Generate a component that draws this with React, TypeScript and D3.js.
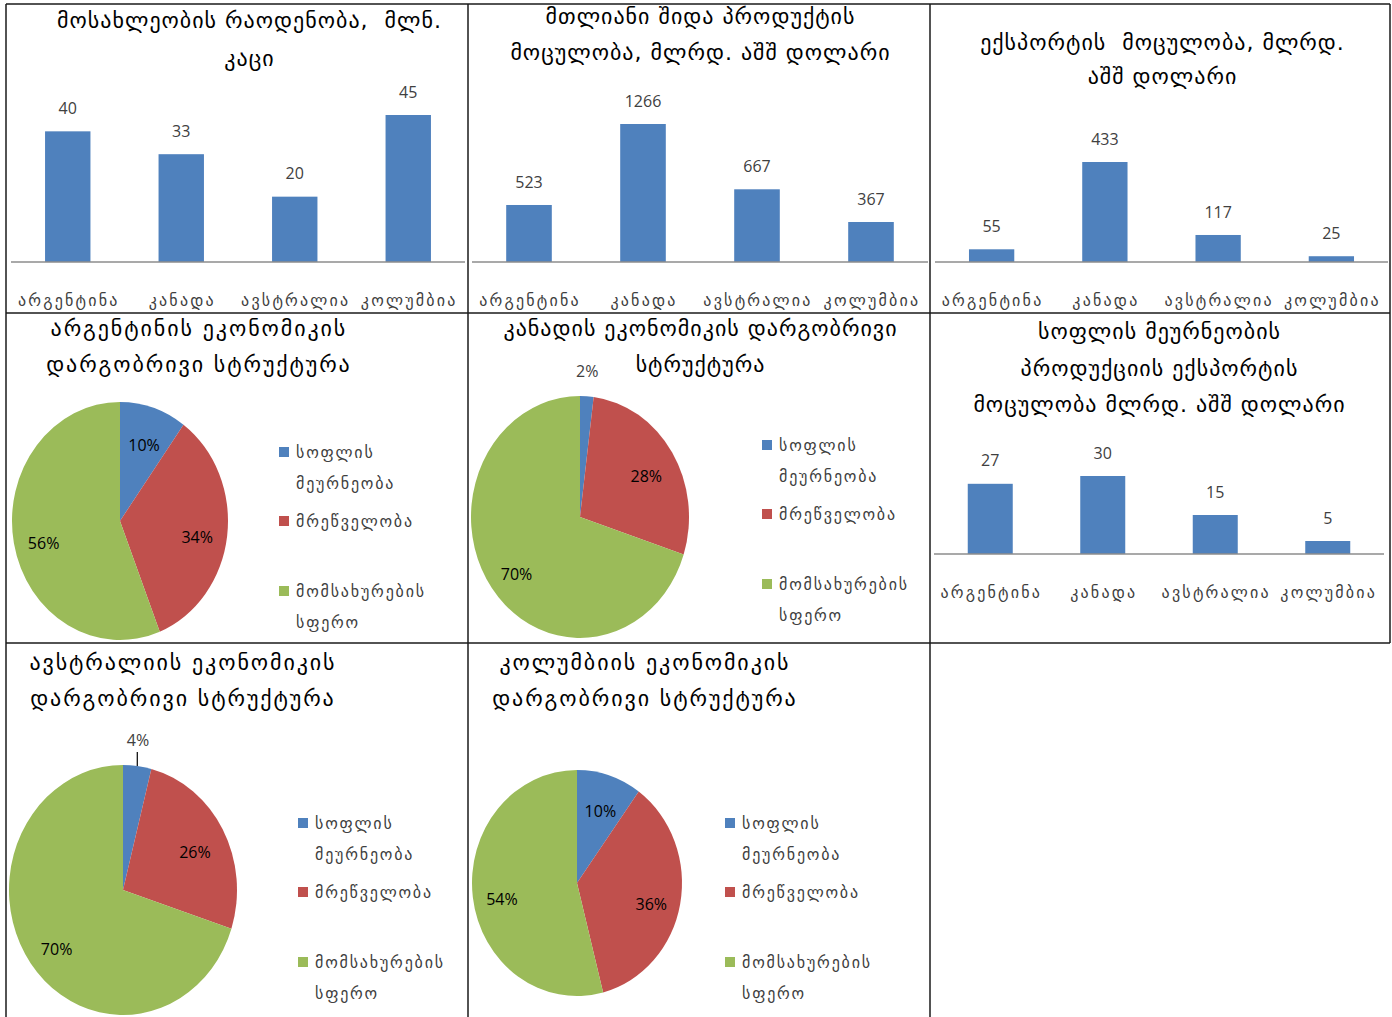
import * as d3 from 'd3'

const countries = ['არგენტინა', 'კანადა', 'ავსტრალია', 'კოლუმბია']
const population = [40, 33, 20, 45]
const gdp = [523, 1266, 667, 367]
const exportVolume = [55, 433, 117, 25]
const agriExport = [27, 30, 15, 5]

const sectorLines = [['სოფლის', 'მეურნეობა'], ['მრეწველობა'], ['მომსახურების', 'სფერო']]
const argentinaShares = [10, 34, 56]
const canadaShares = [2, 28, 70]
const australiaShares = [4, 26, 70]
const colombiaShares = [10, 36, 54]

const COLORS = ['#4f81bd', '#c0504d', '#9bbb59']
const GEO = '"DejaVu Sans", sans-serif'
const NUM = '"Open Sans", "Liberation Sans", sans-serif'
const TXT = '#404040'

type BarCfg = {
  title: string[]
  titleX: number
  titleY: number[]
  values: number[]
  x0: number
  x1: number
  base: number
  maxTop: number
}

const bars: BarCfg[] = [
  { title: ['მოსახლეობის რაოდენობა,  მლნ.', 'კაცი'], titleX: 249, titleY: [20, 58], values: population, x0: 11, x1: 465, base: 262, maxTop: 115 },
  { title: ['მთლიანი შიდა პროდუქტის', 'მოცულობა, მლრდ. აშშ დოლარი'], titleX: 700, titleY: [16, 52], values: gdp, x0: 472, x1: 928, base: 262, maxTop: 124 },
  { title: ['ექსპორტის  მოცულობა, მლრდ.', 'აშშ დოლარი'], titleX: 1162, titleY: [42, 76], values: exportVolume, x0: 935, x1: 1388, base: 262, maxTop: 162 },
  { title: ['სოფლის მეურნეობის', 'პროდუქციის ექსპორტის', 'მოცულობა მლრდ. აშშ დოლარი'], titleX: 1159, titleY: [331, 368, 404], values: agriExport, x0: 934, x1: 1384, base: 554, maxTop: 476 },
]

type PieCfg = {
  title: string[]
  titleX: number
  titleY: number[]
  spacing: number
  shares: number[]
  cx: number
  cy: number
  rx: number
  ry: number
  legendX: number
  legendY: number
  leader: boolean
}

const pies: PieCfg[] = [
  { title: ['არგენტინის ეკონომიკის', 'დარგობრივი სტრუქტურა'], titleX: 198, titleY: [328, 364], spacing: 1.9, shares: argentinaShares, cx: 120, cy: 521, rx: 108, ry: 119, legendX: 279, legendY: 452, leader: false },
  { title: ['კანადის ეკონომიკის დარგობრივი', 'სტრუქტურა'], titleX: 700, titleY: [328, 364], spacing: 1, shares: canadaShares, cx: 580, cy: 517, rx: 109, ry: 121, legendX: 762, legendY: 445, leader: false },
  { title: ['ავსტრალიის ეკონომიკის', 'დარგობრივი სტრუქტურა'], titleX: 182, titleY: [662, 698], spacing: 1.9, shares: australiaShares, cx: 123, cy: 890, rx: 114, ry: 125, legendX: 298, legendY: 823, leader: true },
  { title: ['კოლუმბიის ეკონომიკის', 'დარგობრივი სტრუქტურა'], titleX: 644, titleY: [662, 698], spacing: 1.9, shares: colombiaShares, cx: 577, cy: 883, rx: 105, ry: 113, legendX: 725, legendY: 823, leader: false },
]

const legendOffsets = [[0, 31], [69], [139, 170]]

const Title = ({ lines, x, ys, spacing = 1 }: { lines: string[]; x: number; ys: number[]; spacing?: number }) => (
  <g fontFamily={GEO} fontSize={22} fill="#000" textAnchor="middle" letterSpacing={spacing}>
    {lines.map((l, i) => (
      <text key={i} x={x + spacing / 2} y={ys[i]} dy="0.35em" style={{ whiteSpace: 'pre' }}>
        {l}
      </text>
    ))}
  </g>
)

const BarPanel = ({ c }: { c: BarCfg }) => {
  const x = d3.scaleBand<string>().domain(countries).range([c.x0, c.x1]).paddingInner(0.6).paddingOuter(0.3)
  const max = d3.max(c.values) as number
  const y = d3.scaleLinear().domain([0, max]).range([c.base, c.maxTop])
  return (
    <g>
      <Title lines={c.title} x={c.titleX} ys={c.titleY} />
      {c.values.map((v, i) => {
        const cx = (x(countries[i]) as number) + x.bandwidth() / 2
        return (
          <g key={i}>
            <rect x={x(countries[i])} y={y(v)} width={x.bandwidth()} height={c.base - y(v)} fill={COLORS[0]} />
            <text x={cx} y={y(v) - 23} dy="0.35em" textAnchor="middle" fontFamily={NUM} fontSize={16} fill={TXT}>
              {v}
            </text>
            <text x={cx + 1} y={c.base + 38} dy="0.35em" textAnchor="middle" fontFamily={GEO} fontSize={16} letterSpacing={2.2} fill={TXT}>
              {countries[i]}
            </text>
          </g>
        )
      })}
      <line x1={c.x0} x2={c.x1} y1={c.base} y2={c.base} stroke="#8c8c8c" strokeWidth={1.5} />
    </g>
  )
}

const PiePanel = ({ c }: { c: PieCfg }) => {
  const arcs = d3.pie<number>().sort(null).value((d) => d)(c.shares)
  const sy = c.ry / c.rx
  const arc = d3.arc<d3.PieArcDatum<number>>().innerRadius(0).outerRadius(c.rx)
  const labelArc = d3.arc<d3.PieArcDatum<number>>().innerRadius(c.rx * 0.72).outerRadius(c.rx * 0.72)
  return (
    <g>
      <Title lines={c.title} x={c.titleX} ys={c.titleY} spacing={c.spacing} />
      <g transform={`translate(${c.cx},${c.cy}) scale(1,${sy})`}>
        {arcs.map((a, i) => (
          <path key={i} d={arc(a) as string} fill={COLORS[i]} />
        ))}
      </g>
      {arcs.map((a, i) => {
        const mid = (a.startAngle + a.endAngle) / 2
        const small = a.value < 5
        let lx: number
        let ly: number
        if (small) {
          lx = c.cx + Math.sin(mid) * c.rx * 1.05
          ly = c.cy - c.ry * 1.2
        } else {
          const [px, py] = labelArc.centroid(a)
          lx = c.cx + px
          ly = c.cy + py * sy + 6
        }
        const ex = c.cx + Math.sin(mid) * c.rx
        const ey = c.cy - Math.cos(mid) * c.ry
        return (
          <g key={i}>
            {small && c.leader && <line x1={ex} x2={ex} y1={ey} y2={ly + 12} stroke="#000" strokeWidth={1.2} />}
            <text x={lx} y={ly} dy="0.35em" textAnchor="middle" fontFamily={NUM} fontSize={16} fill={small ? TXT : '#000'}>
              {a.value}%
            </text>
          </g>
        )
      })}
      {sectorLines.map((lines, i) => (
        <g key={i}>
          <rect x={c.legendX} y={c.legendY + legendOffsets[i][0] - 5} width={10} height={10} fill={COLORS[i]} />
          {lines.map((l, j) => (
            <text key={j} x={c.legendX + 17} y={c.legendY + legendOffsets[i][j]} dy="0.35em" fontFamily={GEO} fontSize={16} letterSpacing={1.8} fill={TXT}>
              {l}
            </text>
          ))}
        </g>
      ))}
    </g>
  )
}

export default function App() {
  const grid = '#1a1a1a'
  return (
    <svg width={1392} height={1017} style={{ position: 'absolute', left: 0, top: 0, background: '#fff' }}>
      <rect width={1392} height={1017} fill="#fff" />
      {bars.map((c, i) => (
        <BarPanel key={i} c={c} />
      ))}
      {pies.map((c, i) => (
        <PiePanel key={i} c={c} />
      ))}
      <g stroke={grid} strokeWidth={1.5}>
        <line x1={6} x2={1390} y1={4} y2={4} />
        <line x1={6} x2={1390} y1={313} y2={313} />
        <line x1={6} x2={1390} y1={643} y2={643} />
        <line x1={6} x2={6} y1={4} y2={1017} />
        <line x1={468} x2={468} y1={4} y2={1017} />
        <line x1={930} x2={930} y1={4} y2={1017} />
        <line x1={1390} x2={1390} y1={4} y2={643} />
      </g>
    </svg>
  )
}
